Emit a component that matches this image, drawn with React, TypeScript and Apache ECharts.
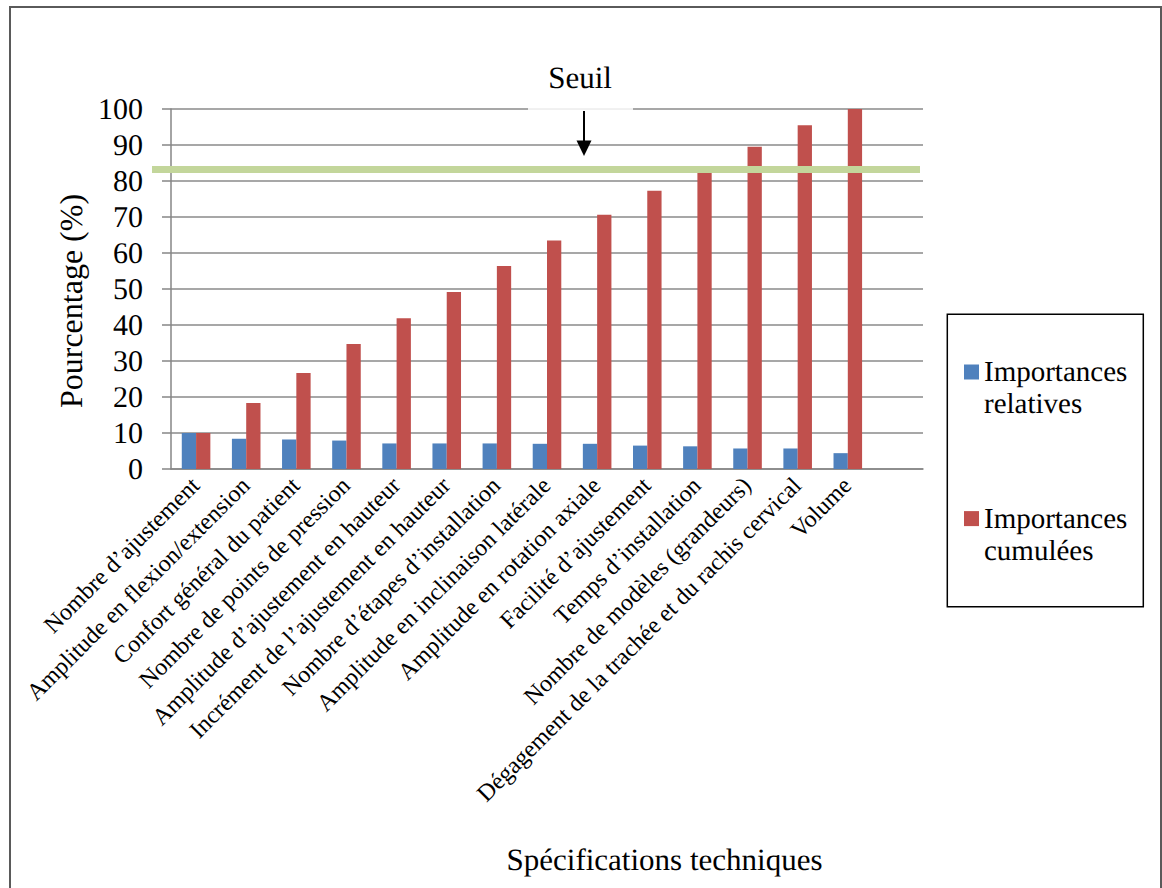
import React, { useEffect, useRef } from "react";
import * as echarts from "echarts";

const categories = [
  "Nombre d’ajustement",
  "Amplitude en flexion/extension",
  "Confort général du patient",
  "Nombre de points de pression",
  "Amplitude d’ajustement en hauteur",
  "Incrément de l’ajustement en hauteur",
  "Nombre d’étapes d’installation",
  "Amplitude en inclinaison latérale",
  "Amplitude en rotation axiale",
  "Facilité d’ajustement",
  "Temps d’installation",
  "Nombre de modèles (grandeurs)",
  "Dégagement de la trachée et du rachis cervical",
  "Volume",
];
const importancesRelatives = [10.0, 8.4, 8.2, 7.9, 7.1, 7.1, 7.1, 7.0, 7.0, 6.5, 6.3, 5.7, 5.7, 4.4];
const importancesCumulees = [10.0, 18.3, 26.7, 34.7, 41.9, 49.2, 56.4, 63.5, 70.6, 77.3, 83.6, 89.5, 95.5, 100];
const seuil = 83.2;
const seriesNames = ["Importances\nrelatives", "Importances\ncumulées"];
const yMin = 0;
const yMax = 100;
const yInterval = 10;

const FONT = "Liberation Serif";

export default function App() {
  const ref = useRef<HTMLDivElement>(null);
  useEffect(() => {
    if (!ref.current) return;
    const chart = echarts.init(ref.current, null, { renderer: "svg" });
    const option: any = {
      animation: false,
      backgroundColor: "#ffffff",
      textStyle: { fontFamily: FONT },
      grid: { left: 171, right: 239, top: 109, bottom: 419, containLabel: false },
      legend: {
        orient: "vertical",
        left: 964,
        top: 324,
        padding: 0,
        itemGap: 50.6,
        itemWidth: 15,
        itemHeight: 15,
        icon: "rect",
        selectedMode: false,
        data: seriesNames,
        formatter: (name: string) => "\n" + name,
        textStyle: {
          fontFamily: FONT,
          fontSize: 29,
          color: "#000",
          lineHeight: 32,
        },
      },
      xAxis: {
        type: "category",
        data: [...categories, ""],
        axisLine: { show: true, lineStyle: { color: "#868686", width: 1.5 } },
        axisTick: { show: false },
        axisLabel: {
          interval: 0,
          rotate: 45,
          margin: 13,
          fontFamily: FONT,
          fontSize: 24,
          color: "#000",
        },
        name: "Spécifications techniques",
        nameLocation: "middle",
        nameGap: 375,
        nameTextStyle: {
          fontFamily: FONT,
          fontSize: 31,
          color: "#000",
          padding: [0, 0, 0, 235],
        },
      },
      yAxis: {
        type: "value",
        min: yMin,
        max: yMax,
        interval: yInterval,
        axisLine: { show: true, lineStyle: { color: "#868686", width: 1.5 } },
        axisTick: { show: true, inside: false, length: 9, lineStyle: { color: "#868686", width: 1.5 } },
        splitLine: { show: true, lineStyle: { color: "#8a8a8a", width: 1.5 } },
        axisLabel: { margin: 28, fontFamily: FONT, fontSize: 30, color: "#000" },
        name: "Pourcentage (%)",
        nameLocation: "middle",
        nameGap: 83,
        nameTextStyle: {
          fontFamily: FONT,
          fontSize: 32,
          color: "#000",
          padding: [0, 24, 0, 0],
        },
      },
      series: [
        {
          name: seriesNames[0],
          type: "bar",
          data: importancesRelatives,
          barGap: "0%",
          barCategoryGap: "43%",
          itemStyle: { color: "#4f81bd" },
        },
        {
          name: seriesNames[1],
          type: "bar",
          data: importancesCumulees,
          barGap: "0%",
          barCategoryGap: "43%",
          itemStyle: { color: "#c0504d" },
        },
      ],
    };
    chart.setOption(option);

    const ySeuil = chart.convertToPixel({ yAxisIndex: 0 }, seuil) as number;
    const yTop = chart.convertToPixel({ yAxisIndex: 0 }, yMax) as number;

    chart.setOption({
      graphic: [
        {
          type: "rect",
          z: 100,
          shape: { x: 10, y: 7, width: 1151, height: 900 },
          style: { fill: "none", stroke: "#5a5a5a", lineWidth: 2 },
        },
        {
          type: "line",
          z: 100,
          shape: { x1: 152, y1: ySeuil, x2: 920, y2: ySeuil },
          style: { stroke: "#c3d69b", lineWidth: 7 },
        },
        {
          type: "rect",
          z: 100,
          shape: { x: 528, y: 50, width: 105, height: yTop - 50 + 1 },
          style: { fill: "#ffffff", stroke: "none" },
        },
        {
          type: "line",
          z: 101,
          shape: { x1: 528, y1: yTop, x2: 633, y2: yTop },
          style: { stroke: "#e2e2e2", lineWidth: 1 },
        },
        {
          type: "text",
          z: 101,
          x: 580,
          y: 77,
          style: {
            text: "Seuil",
            fontFamily: FONT,
            fontSize: 31,
            fill: "#000",
            align: "center",
            verticalAlign: "middle",
          },
        },
        {
          type: "line",
          z: 101,
          shape: { x1: 584, y1: yTop + 2, x2: 584, y2: ySeuil - 26 },
          style: { stroke: "#000", lineWidth: 2 },
        },
        {
          type: "polygon",
          z: 101,
          shape: {
            points: [
              [576.5, ySeuil - 29],
              [591.5, ySeuil - 29],
              [584, ySeuil - 13.5],
            ],
          },
          style: { fill: "#000" },
        },
        {
          type: "rect",
          z: 100,
          shape: { x: 947.3, y: 314.3, width: 196, height: 292.4 },
          style: { fill: "none", stroke: "#000", lineWidth: 1.5 },
        },
      ],
    });

    return () => chart.dispose();
  }, []);
  return (
    <div
      ref={ref}
      style={{
        position: "absolute",
        left: 0,
        top: 0,
        width: 1162,
        height: 888,
        textRendering: "geometricPrecision",
      }}
    />
  );
}
